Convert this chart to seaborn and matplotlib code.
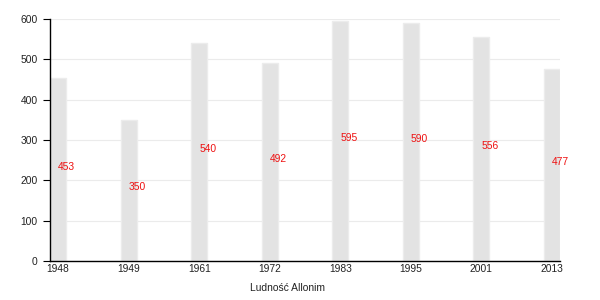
import matplotlib
matplotlib.use("Agg")
import matplotlib.pyplot as plt
import seaborn as sns
import pandas as pd

years = ["1948", "1949", "1961", "1972", "1983", "1995", "2001", "2013"]
population = [453, 350, 540, 492, 595, 590, 556, 477]
y_ticks = [0, 100, 200, 300, 400, 500, 600]
x_title = "Ludność Allonim"

sns.set_theme(style="white")
plt.rcParams['font.family'] = ['Liberation Sans', 'DejaVu Sans']

df = pd.DataFrame({"year": years, "pop": population})

fig = plt.figure(figsize=(6, 3), dpi=100)
ax = fig.add_axes([50/600, 39/300, 510/600, 242/300])

bw = 16/70.5
sns.barplot(data=df, x="year", y="pop", color="#e3e3e3", width=bw,
            saturation=1, ax=ax, zorder=2)
for p in ax.patches:
    p.set_edgecolor("#ececec")
    p.set_linewidth(1.0)

ax.set_xlim(-bw/2, len(years) - 1 + bw/2)
ax.set_ylim(0, 600)
ax.set_yticks(y_ticks)
ax.set_yticklabels([str(t) for t in y_ticks])
ax.yaxis.grid(True, color="#ebebeb", linewidth=0.8, zorder=0)
ax.set_axisbelow(True)

for s in ["top", "right"]:
    ax.spines[s].set_visible(False)
for s in ["left", "bottom"]:
    ax.spines[s].set_color("black")
    ax.spines[s].set_linewidth(1.0)

ax.tick_params(axis="y", length=5, width=0.8, color="black", labelsize=7.4,
               labelcolor="#222222", pad=4, left=True)
ax.tick_params(axis="x", length=0, labelsize=7.4, labelcolor="#222222", pad=2)
ax.set_xlabel("")
ax.set_ylabel("")

for i, v in enumerate(population):
    ax.text(i, v / 2, str(v), color="#ee1111", fontsize=7.4,
            ha="left", va="baseline", zorder=3)

fig.text(288/600, 1 - 288/300, x_title, ha="center", va="center",
         fontsize=7.4, color="#222222")

fig.savefig("out.png", dpi=100, facecolor="white")
